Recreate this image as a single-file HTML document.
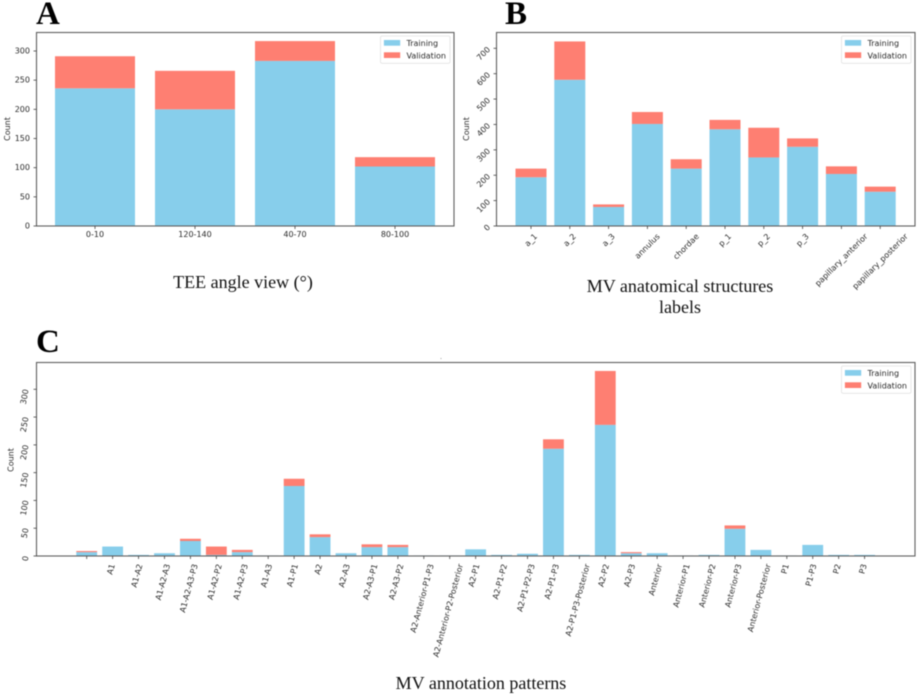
<!DOCTYPE html>
<html lang="en">
<head>
<meta charset="utf-8">
<title>MV dataset distributions</title>
<style>
html,body{margin:0;padding:0;background:#fff;}
body{width:920px;height:695px;overflow:hidden;}
#figure{display:block;filter:blur(0.4px);}
.tick{font-family:"DejaVu Sans",sans-serif;font-size:8px;fill:#2a2a2a;}
.caption{font-family:"Liberation Serif",serif;font-size:18px;fill:#111;}
.letter{font-family:"Liberation Serif",serif;font-weight:bold;font-size:33px;fill:#000;}
</style>
</head>
<body>
<svg id="figure" xmlns="http://www.w3.org/2000/svg" width="920" height="695" viewBox="0 0 920 695">
  <rect width="920" height="695" fill="#fff"/>
  <text class="letter" x="36" y="24">A</text>
  <text class="letter" x="505" y="24">B</text>
  <text class="letter" x="36" y="352">C</text>
  <text class="caption" x="243" y="288" text-anchor="middle">TEE angle view (°)</text>
  <text class="caption" x="680" y="292" text-anchor="middle">MV anatomical structures</text>
  <text class="caption" x="680" y="313" text-anchor="middle">labels</text>
  <text class="caption" x="481" y="689" text-anchor="middle">MV annotation patterns</text>
  <circle cx="441" cy="358.5" r="0.5" fill="#888"/>
  <g id="charts"></g>
</svg>
<script>
const angleCategories = ['0-10', '120-140', '40-70', '80-100'];
const angleTraining = [236, 200, 283, 102];
const angleValidation = [55, 66, 34, 16];
const angleTicks = [0, 50, 100, 150, 200, 250, 300];

const structureCategories = ['a_1', 'a_2', 'a_3', 'annulus', 'chordae', 'p_1', 'p_2', 'p_3', 'papillary_anterior', 'papillary_posterior'];
const structureTraining = [192, 576, 75, 402, 226, 381, 270, 312, 205, 135];
const structureValidation = [34, 151, 10, 47, 37, 37, 117, 33, 30, 20];
const structureTicks = [0, 100, 200, 300, 400, 500, 600, 700];

const patternCategories = ['', 'A1', 'A1-A2', 'A1-A2-A3', 'A1-A2-A3-P3', 'A1-A2-P2', 'A1-A2-P3', 'A1-A3', 'A1-P1', 'A2', 'A2-A3', 'A2-A3-P1', 'A2-A3-P2', 'A2-Anterior-P1-P3', 'A2-Anterior-P2-Posterior', 'A2-P1', 'A2-P1-P2', 'A2-P1-P2-P3', 'A2-P1-P3', 'A2-P1-P3-Posterior', 'A2-P2', 'A2-P3', 'Anterior', 'Anterior-P1', 'Anterior-P2', 'Anterior-P3', 'Anterior-Posterior', 'P1', 'P1-P3', 'P2', 'P3'];
const patternTraining = [7, 17, 2, 5, 27, 2, 7, 1, 126, 34, 5, 16, 16, 1, 1, 12, 2, 4, 193, 2, 236, 5, 5, 1, 2, 49, 11, 1, 20, 2, 2];
const patternValidation = [2, 0, 0, 0, 4, 15, 4, 0, 13, 5, 0, 5, 4, 0, 0, 0, 0, 0, 17, 0, 97, 2, 0, 0, 0, 6, 0, 0, 0, 0, 0];
const patternTicks = [0, 50, 100, 150, 200, 250, 300];

const SVG_NS = 'http://www.w3.org/2000/svg';
const TRAIN_COLOR = '#87ceeb';
const VALID_COLOR = '#fe7f72';
const root = document.getElementById('charts');

function shape(parent, tag, props) {
  const el = document.createElementNS(SVG_NS, tag);
  for (const key in props) el.setAttribute(key, props[key]);
  parent.appendChild(el);
  return el;
}

function drawPanel(panel) {
  const g = shape(root, 'g', {});
  
  

  // axis functions
  const yOf = v => panel.bottom - v * panel.pxPerUnit;
  const xOf = i => panel.firstX + i * panel.step;

  // bars
  panel.categories.forEach((cat, i) => {
    const train = panel.training[i];
    const valid = panel.validation[i];
    const barX = xOf(i) - panel.barWidth / 2;
    const slug = cat === '' ? 'unlabeled' : cat.toLowerCase();
    const tBar = shape(g, 'rect', {x: barX, y: yOf(train), width: panel.barWidth, height: panel.bottom - yOf(train), fill: TRAIN_COLOR});
    
    
    if (valid > 0) {
      const vBar = shape(g, 'rect', {x: barX, y: yOf(train + valid), width: panel.barWidth, height: yOf(train) - yOf(train + valid), fill: VALID_COLOR});
      
      
    }
  });

  // frame
  const frame = shape(g, 'rect', {x: panel.left, y: panel.top, width: panel.right - panel.left, height: panel.bottom - panel.top, fill: 'none', stroke: '#5f5f5f', 'stroke-width': 1.1});
  
  

  // y ticks
  panel.yTicks.forEach(v => {
    const y = yOf(v);
    const mark = shape(g, 'line', {x1: panel.left - 3, x2: panel.left, y1: y, y2: y, stroke: '#444', 'stroke-width': 0.8});
    
    
    const label = shape(g, 'text', {class: 'tick', 'text-anchor': 'end', 'dominant-baseline': 'central', x: panel.yLabelX, y: y, transform: 'rotate(' + panel.yRotate + ' ' + panel.yLabelX + ' ' + y + ')'});
    label.textContent = String(v);
    
    
  });

  // y title
  const title = shape(g, 'text', {class: 'tick', 'text-anchor': 'middle', x: panel.titleX, y: panel.titleY, transform: 'rotate(-90 ' + panel.titleX + ' ' + panel.titleY + ')'});
  title.textContent = 'Count';
  
  

  // x ticks
  const rad = Math.abs(panel.xRotate) * Math.PI / 180;
  panel.categories.forEach((cat, i) => {
    const x = xOf(i);
    const slug = cat === '' ? 'unlabeled' : cat.toLowerCase();
    const mark = shape(g, 'line', {x1: x, x2: x, y1: panel.bottom, y2: panel.bottom + 3, stroke: '#444', 'stroke-width': 0.8});
    
    
    if (cat === '') return;
    const label = shape(g, 'text', {class: 'tick', 'text-anchor': 'middle', 'dominant-baseline': 'central', x: x, y: panel.xLabelTop});
    label.textContent = cat;
    
    
    const len = label.getComputedTextLength();
    const cy = panel.xLabelTop + (len * Math.sin(rad) + 9 * Math.cos(rad)) / 2;
    const cx = x + panel.xLabelShift;
    label.setAttribute('x', cx);
    label.setAttribute('y', cy);
    label.setAttribute('transform', 'rotate(' + panel.xRotate + ' ' + cx + ' ' + cy + ')');
  });

  // legend
  const lx = panel.right - 73.5;
  const ly = panel.top + 3.5;
  const legend = shape(g, 'g', {});
  
  
  const box = shape(legend, 'rect', {x: lx, y: ly, width: 69.5, height: 27.3, rx: 1.5, fill: '#fff', stroke: '#e2e2e2', 'stroke-width': 0.8});
  
  
  const swatchT = shape(legend, 'rect', {x: lx + 3.4, y: ly + 4, width: 16.3, height: 5.7, fill: TRAIN_COLOR});
  
  
  const swatchV = shape(legend, 'rect', {x: lx + 3.4, y: ly + 16.3, width: 16.3, height: 5.7, fill: VALID_COLOR});
  
  
  const textT = shape(legend, 'text', {class: 'tick', x: lx + 26, y: ly + 10.2});
  textT.textContent = 'Training';
  
  
  const textV = shape(legend, 'text', {class: 'tick', x: lx + 26, y: ly + 22.5});
  textV.textContent = 'Validation';
  
  
}

drawPanel({
  id: 'tee-angle', categories: angleCategories, training: angleTraining, validation: angleValidation, yTicks: angleTicks,
  left: 36.5, right: 454, top: 32.5, bottom: 226, pxPerUnit: 175 / 300,
  firstX: 95, step: 100, barWidth: 80,
  yLabelX: 30, yRotate: 0, xRotate: 0, xLabelTop: 230, xLabelShift: 0, titleX: 10, titleY: 129
});

drawPanel({
  id: 'anatomical-structures', categories: structureCategories, training: structureTraining, validation: structureValidation, yTicks: structureTicks,
  left: 496.5, right: 915, top: 32.5, bottom: 226, pxPerUnit: 177.7 / 700,
  firstX: 531, step: 38.8, barWidth: 31,
  yLabelX: 489, yRotate: -45, xRotate: -45, xLabelTop: 232, xLabelShift: 0, titleX: 469, titleY: 129
});

drawPanel({
  id: 'annotation-patterns', categories: patternCategories, training: patternTraining, validation: patternValidation, yTicks: patternTicks,
  left: 36.5, right: 915, top: 362.5, bottom: 556, pxPerUnit: 166.7 / 300,
  firstX: 86.7, step: 25.93, barWidth: 20.8,
  yLabelX: 26, yRotate: -80, xRotate: -75, xLabelTop: 563, xLabelShift: -1.5, titleX: 13.5, titleY: 460
});
</script>
</body>
</html>
